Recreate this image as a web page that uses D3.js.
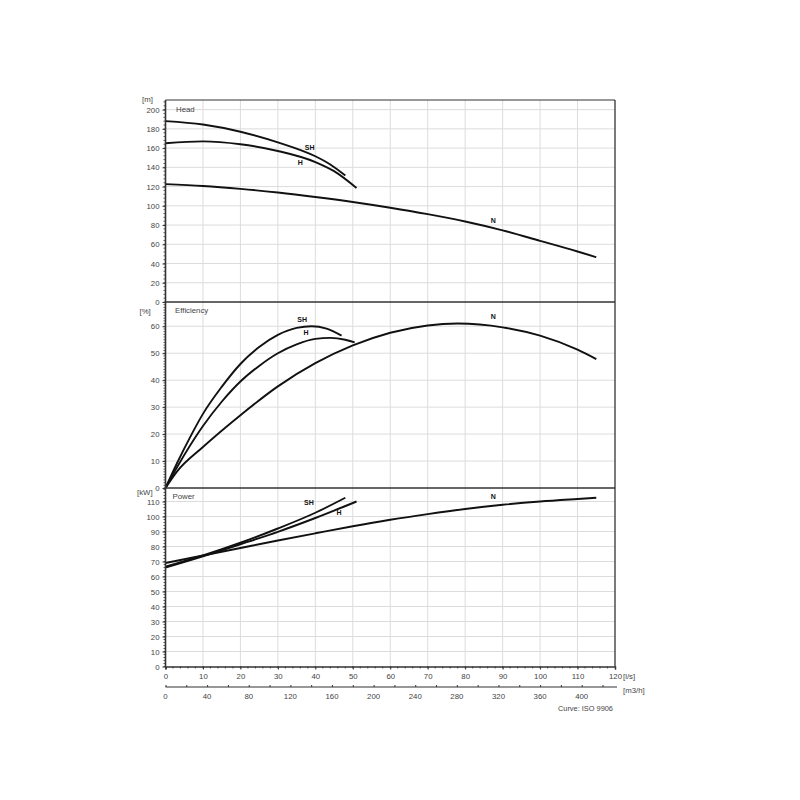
<!DOCTYPE html>
<html><head><meta charset="utf-8">
<script src="https://cdn.jsdelivr.net/npm/d3@7"></script>
<style>body{margin:0;background:#fff}svg{display:block}text{font-family:"Liberation Sans",Arial,sans-serif}</style>
</head><body>
<script>
// ---- data ----
const flowTicksLs = [0,10,20,30,40,50,60,70,80,90,100,110,120];
const flowTicksM3h = [0,40,80,120,160,200,240,280,320,360,400];
const headTicks = [0,20,40,60,80,100,120,140,160,180,200];
const effTicks = [0,10,20,30,40,50,60];
const powTicks = [0,10,20,30,40,50,60,70,80,90,100,110];

const headSH = [[0,188],[10,184.5],[20,177],[30,166],[40,151.5],[44,143],[48,131.5]];
const headH  = [[0,165],[10,167],[20,164],[30,157],[40,145.5],[45,136],[51,118.5]];
const headN  = [[0,122.5],[10,120.6],[20,117.6],[30,113.8],[40,109.2],[50,104],[60,98],[70,91.3],[80,83.7],[90,74.5],[100,63.6],[110,52.5],[115,46.6]];

const effSH = [[0,0],[3,9],[7,20],[10,27.5],[15,37.5],[20,46],[25,52.3],[30,56.8],[35,59.4],[39,60],[43,59.1],[47,56.5]];
const effH  = [[0,0],[3,7.5],[10,23],[15,32],[20,39.5],[25,45.3],[30,50],[35,53.3],[40,55.3],[44,55.7],[48,55],[50.5,54]];
const effN  = [[0,0],[3,6],[10,15.2],[20,27],[30,37.7],[40,46.3],[50,52.9],[60,57.6],[70,60.3],[78,61],[90,59.6],[100,56.5],[110,51.3],[115,47.8]];

const powSH = [[0,66.5],[10,74],[20,82.5],[30,92],[40,102.5],[48,112.5]];
const powH  = [[0,66],[10,73.5],[20,81.5],[30,89.8],[40,99],[51,110]];
const powN  = [[0,69],[10,74],[20,79],[30,84],[40,88.8],[50,93.5],[60,97.8],[70,101.6],[80,105],[90,107.8],[100,110],[110,111.7],[115,112.5]];

const labelsHead = [["SH",38.5,158],["H",36,142],["N",87.5,82]];
const labelsEff = [["SH",36.5,61.5],["H",37.5,56.8],["N",87.5,62.6]];
const labelsPow = [["SH",38.3,107.5],["H",46.3,101],["N",87.5,112]];

// ---- layout ----
const W = 800, H = 800;
const svg = d3.select("body").append("svg").attr("width", W).attr("height", H);
const x = d3.scaleLinear().domain([0,120]).range([165.5,615]);
const xm = d3.scaleLinear().domain([0,432]).range([165.5,615]);
const yHead = d3.scaleLinear().domain([0,210]).range([302,100]);
const yEff = d3.scaleLinear().domain([0,69]).range([488,302]);
const yPow = d3.scaleLinear().domain([0,119]).range([666.5,488]);

const gridColor = "#dcdcdc";
const g = svg.append("g");

g.selectAll("line.vg").data(d3.range(10,120,10)).join("line")
  .attr("x1", d=>x(d)).attr("x2", d=>x(d)).attr("y1",100).attr("y2",666.5)
  .attr("stroke", gridColor).attr("stroke-width",1);

function panel(y, ticks, minorStep, title, titleX, titleY, unit, unitX, unitY, series, labels) {
  const [d0,d1] = y.domain();
  g.selectAll(null).data(ticks.filter(t=>t>0)).join("line")
    .attr("x1", x(0)).attr("x2", x(120)).attr("y1", d=>y(d)).attr("y2", d=>y(d))
    .attr("stroke", gridColor).attr("stroke-width",1);
  g.selectAll(null).data(d3.range(0, d1, minorStep)).join("line")
    .attr("x1", x(0)-2).attr("x2", x(0)).attr("y1", d=>y(d)).attr("y2", d=>y(d))
    .attr("stroke", "#333").attr("stroke-width",0.8);
  const ax = d3.axisLeft(y).tickValues(ticks).tickSize(3).tickPadding(3);
  const ga = g.append("g").attr("transform", `translate(${x(0)},0)`).call(ax);
  ga.select(".domain").remove();
  ga.selectAll("text").attr("font-size", 7.8).attr("fill","#444").attr("font-family","Liberation Sans, Arial, sans-serif");
  ga.selectAll("line").attr("stroke","#333");
  g.append("text").attr("x", titleX).attr("y", titleY).attr("font-size", 7.8).attr("fill","#444").text(title);
  g.append("text").attr("x", unitX).attr("y", unitY).attr("font-size", 7.8).attr("fill","#444").text(unit);
  const line = d3.line().x(d=>x(d[0])).y(d=>y(d[1])).curve(d3.curveMonotoneX);
  series.forEach(s => {
    g.append("path").attr("d", line(s)).attr("fill","none").attr("stroke","#111").attr("stroke-width",1.9);
  });
  labels.forEach(l => {
    g.append("text").attr("x", x(l[1])).attr("y", y(l[2])).attr("text-anchor","middle")
      .attr("font-size", 7).attr("font-weight","bold").attr("fill","#111").text(l[0]);
  });
}

panel(yHead, headTicks, 4, "Head", 176, 112, "[m]", 142, 102, [headSH, headH, headN], labelsHead);
panel(yEff, effTicks, 1, "Efficiency", 175, 313, "[%]", 139.5, 314, [effSH, effH, effN], labelsEff);
panel(yPow, powTicks, 2, "Power", 172.5, 499, "[kW]", 137, 495, [powSH, powH, powN], labelsPow);

const frame = svg.append("g").attr("stroke","#333").attr("fill","none");
frame.append("line").attr("x1",x(0)).attr("x2",x(120)).attr("y1",100).attr("y2",100).attr("stroke-width",1);
frame.append("line").attr("x1",x(0)).attr("x2",x(120)).attr("y1",302).attr("y2",302).attr("stroke-width",1.3);
frame.append("line").attr("x1",x(0)).attr("x2",x(120)).attr("y1",488).attr("y2",488).attr("stroke-width",1.3);
frame.append("line").attr("x1",x(0)).attr("x2",x(0)).attr("y1",100).attr("y2",666.5).attr("stroke-width",1.6);
frame.append("line").attr("x1",x(120)).attr("x2",x(120)).attr("y1",100).attr("y2",666.5).attr("stroke-width",1.3);

const axB = d3.axisBottom(x).tickValues(flowTicksLs).tickSize(3).tickPadding(4);
const gb = svg.append("g").attr("transform","translate(0,666.5)").call(axB);
gb.select(".domain").attr("stroke","#333").attr("stroke-width",1.5);
gb.selectAll("line").attr("stroke","#333");
gb.selectAll("text").attr("font-size",7.8).attr("fill","#444").attr("font-family","Liberation Sans, Arial, sans-serif");
svg.append("g").selectAll("line").data(d3.range(0,120,2)).join("line")
  .attr("x1", d=>x(d)).attr("x2", d=>x(d)).attr("y1",666.5).attr("y2",668.5).attr("stroke","#333").attr("stroke-width",0.8);
svg.append("text").attr("x",623).attr("y",679).attr("font-size",7.8).attr("fill","#444").text("[l/s]");

const axM = d3.axisTop(xm).tickValues(d3.range(0,432,20)).tickSize(2).tickFormat("");
const gm = svg.append("g").attr("transform","translate(0,687)").call(axM);
gm.select(".domain").remove();
gm.selectAll("line").attr("stroke","#333");
svg.append("line").attr("x1",xm(0)).attr("x2",617).attr("y1",687).attr("y2",687).attr("stroke","#333").attr("stroke-width",1.2);
svg.append("g").selectAll("text").data(flowTicksM3h).join("text")
  .attr("x", d=>xm(d)).attr("y",698.5).attr("text-anchor","middle").attr("font-size",7.8).attr("fill","#444").text(d=>d);
svg.append("text").attr("x",623).attr("y",693).attr("font-size",7.8).attr("fill","#444").text("[m3/h]");
svg.append("text").attr("x",613).attr("y",711).attr("text-anchor","end").attr("font-size",7.4).attr("fill","#444").text("Curve: ISO 9906");
</script>
</body></html>
